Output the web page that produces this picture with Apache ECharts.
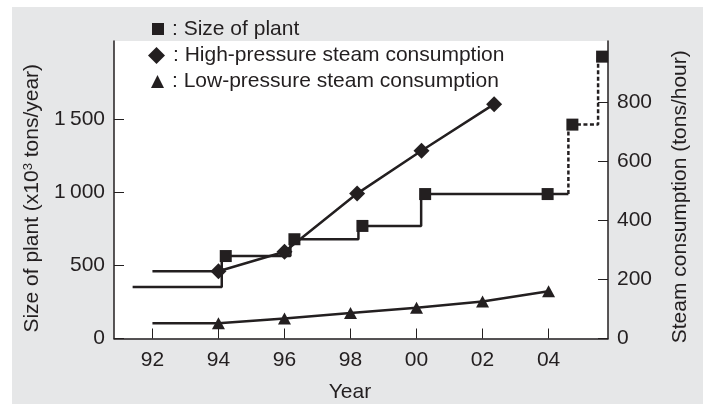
<!DOCTYPE html>
<html>
<head>
<meta charset="utf-8">
<script src="https://cdn.jsdelivr.net/npm/echarts@6/dist/echarts.min.js"></script>
<style>
    html, body { margin: 0; padding: 0; background: #fff; }
    #chart { position: absolute; left: 12px; top: 7px; width: 691px; height: 397px; }
</style>
</head>
<body>
<div id="chart"></div>
<script>
// years are written as 92..105 (2000 = 100)
const sizeYears = [91.4, 94.1, 96.18, 98.24, 100.14, 103.85, 104.6];
const sizeValues = [352, 564, 679, 770, 988, 988, 988];
const sizeMarked = [false, true, true, true, true, true, false];

const plannedYears = [104.6, 104.6, 105.5];
const plannedValues = [988, 1463, 1928];
const plannedMarked = [false, true, true];

const highYears = [92, 94, 96, 98.2, 100.15, 102.35];
const highValues = [228, 228, 294, 491, 636, 794];
const highMarked = [false, true, true, true, true, true];

const lowYears = [92, 94, 96, 98, 100, 102, 104];
const lowValues = [52, 52, 68, 86, 104, 125, 160];
const lowMarked = [false, true, true, true, true, true, true];

const yearTicks = [92, 94, 96, 98, 100, 102, 104];
const plantTicks = [0, 500, 1000, 1500];
const steamTicks = [0, 200, 400, 600, 800];

const ink = '#231f20';
const font = 'Liberation Sans, Arial, Helvetica, sans-serif';

function points(xs, ys, marked) {
    return xs.map((x, i) => marked[i]
        ? { value: [x, ys[i]] }
        : { value: [x, ys[i]], symbol: 'none' });
}

const chart = echarts.init(document.getElementById('chart'));

function legendFor(name, icon, w, h, left, top) {
    return {
        data: [{ name: name, icon: icon }],
        left: left,
        top: top,
        padding: 0,
        itemWidth: w,
        itemHeight: h,
        itemGap: 0,
        selectedMode: false,
        formatter: ': {name}',
        textStyle: { fontSize: 21, color: ink, fontFamily: font, padding: [0, 0, 0, 3] },
        itemStyle: { color: ink }
    };
}

chart.setOption({
    backgroundColor: '#e6e7e8',
    animation: false,
    textStyle: { fontFamily: font },
    legend: [
        legendFor('Size of plant', 'rect', 12, 12, 140, 11.5),
        legendFor('High-pressure steam consumption', 'diamond', 17, 17, 136, 38),
        legendFor('Low-pressure steam consumption', 'triangle', 13, 13, 139, 64)
    ],
    grid: {
        show: true,
        left: 102,
        right: 95,
        top: 34,
        bottom: 65.5,
        outerBoundsMode: 'none',
        containLabel: false,
        backgroundColor: '#fff',
        borderWidth: 0
    },
    xAxis: {
        type: 'value',
        min: 90.836,
        max: 105.8,
        name: 'Year',
        nameLocation: 'middle',
        nameGap: 43,
        nameTextStyle: { fontSize: 21, color: ink, padding: [0, 22, 0, 0] },
        axisLine: { lineStyle: { color: ink, width: 1.5 } },
        axisTick: { inside: true, length: 10, customValues: yearTicks, lineStyle: { color: ink, width: 1 } },
        axisLabel: {
            customValues: yearTicks,
            margin: 11,
            fontSize: 21,
            color: ink,
            formatter: v => String(Math.round(v) % 100).padStart(2, '0')
        },
        splitLine: { show: false }
    },
    yAxis: [
        {
            type: 'value',
            position: 'left',
            min: 0,
            max: 2035,
            name: 'Size of plant (x10{sup|3} tons/year){pad|}',
            nameLocation: 'middle',
            nameGap: 71,
            nameTextStyle: {
                fontSize: 21,
                color: ink,
                rich: {
                    sup: { fontSize: 13, verticalAlign: 'top', color: ink },
                    pad: { width: 17 }
                }
            },
            axisLine: { show: true, lineStyle: { color: ink, width: 1.5 } },
            axisTick: { show: true, inside: true, length: 10, customValues: plantTicks, lineStyle: { color: ink, width: 1 } },
            axisLabel: {
                customValues: plantTicks,
                margin: 9,
                fontSize: 21,
                color: ink,
                formatter: v => v >= 1000 ? Math.floor(v / 1000) + '\u2009' + String(v % 1000).padStart(3, '0') : String(v)
            },
            splitLine: { show: false }
        },
        {
            type: 'value',
            position: 'right',
            min: 0,
            max: 1008,
            name: 'Steam consumption (tons/hour)',
            nameLocation: 'middle',
            nameGap: 62,
            nameTextStyle: { fontSize: 21, color: ink, padding: [0, 14, 0, 0] },
            axisLine: { show: true, lineStyle: { color: ink, width: 1.5 } },
            axisTick: { show: true, inside: true, length: 10, customValues: steamTicks, lineStyle: { color: ink, width: 1 } },
            axisLabel: { customValues: steamTicks, margin: 9, fontSize: 21, color: ink },
            splitLine: { show: false }
        }
    ],
    series: [
        {
            name: 'Size of plant',
            type: 'line',
            yAxisIndex: 0,
            step: 'end',
            data: points(sizeYears, sizeValues, sizeMarked),
            symbol: 'rect',
            symbolSize: 12,
            symbolOffset: [4, 0],
            itemStyle: { color: ink },
            lineStyle: { color: ink, width: 2.5 },
            z: 3
        },
        {
            name: 'Size of plant (planned)',
            type: 'line',
            yAxisIndex: 0,
            step: 'end',
            data: points(plannedYears, plannedValues, plannedMarked),
            symbol: 'rect',
            symbolSize: 12,
            symbolOffset: [4, 0],
            itemStyle: { color: ink },
            lineStyle: { color: ink, width: 2.5, type: [4, 2.5] },
            z: 3
        },
        {
            name: 'High-pressure steam consumption',
            type: 'line',
            yAxisIndex: 1,
            data: points(highYears, highValues, highMarked),
            symbol: 'diamond',
            symbolSize: 16,
            itemStyle: { color: ink },
            lineStyle: { color: ink, width: 2.5 },
            z: 4
        },
        {
            name: 'Low-pressure steam consumption',
            type: 'line',
            yAxisIndex: 1,
            data: points(lowYears, lowValues, lowMarked),
            symbol: 'triangle',
            symbolSize: [13, 12],
            itemStyle: { color: ink },
            lineStyle: { color: ink, width: 2.5 },
            z: 4
        }
    ]
});
</script>
</body>
</html>
